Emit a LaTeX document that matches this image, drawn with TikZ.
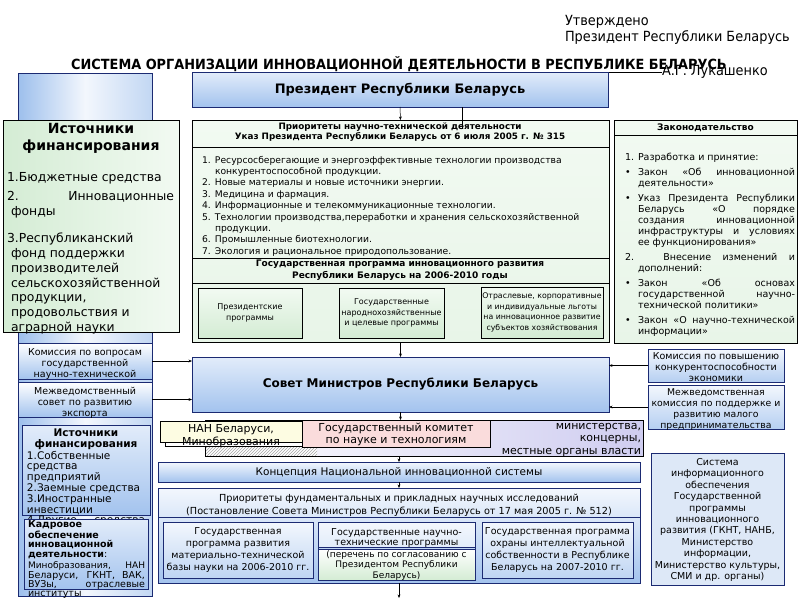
\documentclass[tikz,border=0pt]{standalone}
\usepackage{fontspec}
\setmainfont{DejaVu Sans}
\newfontfamily\cond[FakeStretch=0.92]{DejaVu Sans}
\usetikzlibrary{arrows.meta,patterns}
\definecolor{navy}{HTML}{1B2A72}
\definecolor{blA}{HTML}{E2ECFA}
\definecolor{blB}{HTML}{A3C3EE}
\definecolor{blC}{HTML}{F3F7FD}
\definecolor{gA}{HTML}{E8F5E8}
\definecolor{gB}{HTML}{D4ECD4}
\definecolor{gC}{HTML}{F2FAF2}
\definecolor{pinkb}{HTML}{FADCDC}
\definecolor{yel}{HTML}{FDFCE2}
\definecolor{lav}{HTML}{CFCDF0}
\definecolor{colA}{HTML}{9DBFEC}
\definecolor{colB}{HTML}{C2D7F3}
\definecolor{sysb}{HTML}{DDE8F7}
\newcommand\myfs[2]{\fontsize{#1}{#2}\selectfont}
\begin{document}
\begin{tikzpicture}[x=1pt,y=-1pt,
  bx/.style={draw=navy, line width=0.7pt, anchor=north west, inner sep=0pt, outer sep=0pt},
  gbx/.style={draw=black, line width=0.6pt, anchor=north west, inner sep=0pt, outer sep=0pt},
  bluesh/.style={top color=blA, bottom color=blB},
  subsh/.style={top color=blC, bottom color=blB!70},
  greensh/.style={top color=gC, bottom color=gA},
  gsub/.style={top color=gC, bottom color=gB},
  txt/.style={inner sep=0pt, outer sep=0pt, align=center},
  arr/.style={-{Stealth[length=3.5pt,width=2.8pt]}, line width=0.5pt},
  ln/.style={line width=0.5pt},
]
\fill[white] (0,0) rectangle (800,600);
\path[use as bounding box] (0,0) rectangle (800,600);

% header texts
\node[txt, anchor=north west, align=left, font=\cond\myfs{14}{16}] (appr) at (565,15) {Утверждено\\Президент Республики Беларусь};
\node[txt, font=\cond\bfseries\myfs{14}{16}] (title) at (399,64) {СИСТЕМА ОРГАНИЗАЦИИ ИННОВАЦИОННОЙ ДЕЯТЕЛЬНОСТИ В РЕСПУБЛИКЕ БЕЛАРУСЬ};
\node[txt, anchor=base west, font=\cond\myfs{14}{16}] (sign) at (662,75) {А.Г. Лукашенко};
\coordinate (sgl) at (565,72);
\draw[ln] (sgl) -- (sgl -| sign.west);

% left blue column
\node[bx, minimum width=134pt, minimum height=523pt, left color=colA, right color=colB, middle color=blC] (col) at (18,73) {};

% President
\node[bx, minimum width=416pt, minimum height=35pt, bluesh] (pres) at (192,72) {};
\node[txt, font=\bfseries\myfs{13}{15}] (prest) at (pres.center) {Президент Республики Беларусь};

% left green sources
\node[gbx, minimum width=176pt, minimum height=212pt, left color=gB, right color=gC] (src1) at (3,120) {};
\node[txt, anchor=north, font=\bfseries\myfs{14}{17}] (src1t) at (91,123) {Источники\\финансирования};
\node[txt, anchor=north west, align=left, font=\myfs{12.4}{14.8}] (src1a) at (7,172) {1.Бюджетные средства};
\node[txt, anchor=north west, align=left, font=\myfs{12.4}{14.8}] (src1b) at (7,191) {\makebox[167pt][s]{2. Инновационные}\\\hspace*{4pt}фонды};
\node[txt, anchor=north west, align=left, font=\myfs{12.4}{14.8}] (src1c) at (7,233) {3.Республиканский\\\hspace*{4pt}фонд поддержки\\\hspace*{4pt}производителей\\\hspace*{4pt}сельскохозяйственной\\\hspace*{4pt}продукции,\\\hspace*{4pt}продовольствия и\\\hspace*{4pt}аграрной науки};

% central green block
\node[gbx, minimum width=417pt, minimum height=222pt, greensh] (prio) at (192,120) {};
\draw[ln] (192,147) -- (609,147);
\draw[ln] (192,258) -- (609,258);
\draw[ln] (192,283) -- (609,283);
\node[txt, font=\bfseries\myfs{8.8}{10}] (prio1) at (400,132.5) {Приоритеты научно-технической деятельности\\Указ Президента Республики Беларусь от 6 июля 2005 г. № 315};
\node[txt, anchor=north west, align=left, font=\myfs{9.2}{11.4}] (prio2) at (202,156) {\makebox[13pt][l]{1.}Ресурсосберегающие и энергоэффективные технологии производства\\
\hspace*{13pt}конкурентоспособной продукции.\\
\makebox[13pt][l]{2.}Новые материалы и новые источники энергии.\\
\makebox[13pt][l]{3.}Медицина и фармация.\\
\makebox[13pt][l]{4.}Информационные и телекоммуникационные технологии.\\
\makebox[13pt][l]{5.}Технологии производства,переработки и хранения сельскохозяйственной\\
\hspace*{13pt}продукции.\\
\makebox[13pt][l]{6.}Промышленные биотехнологии.\\
\makebox[13pt][l]{7.}Экология и рациональное природопользование.};
\node[txt, font=\bfseries\myfs{9}{12.5}] (prio3) at (400,270) {Государственная программа инновационного развития\\Республики Беларусь на 2006-2010 годы};
\node[gbx, minimum width=104pt, minimum height=50pt, gsub] (pp1) at (198,288) {};
\node[txt, font=\myfs{8}{10.7}] (pp1t) at (pp1.center) {Президентские\\программы};
\node[gbx, minimum width=105pt, minimum height=50pt, gsub] (pp2) at (339,288) {};
\node[txt, font=\myfs{8}{10.7}] (pp2t) at (pp2.center) {Государственные\\народнохозяйственные\\и целевые программы};
\node[gbx, minimum width=122pt, minimum height=51pt, gsub] (pp3) at (481,287) {};
\node[txt, font=\myfs{7.8}{10.7}] (pp3t) at (pp3.center) {Отраслевые, корпоративные\\и индивидуальные льготы\\на инновационное развитие\\субъектов хозяйствования};

% legislation
\node[gbx, minimum width=183pt, minimum height=223pt, greensh] (law) at (614,120) {};
\draw[ln] (614,135) -- (797,135);
\node[txt, font=\bfseries\myfs{9}{10}] (lawh) at (705.5,127.5) {Законодательство};
\node[txt, anchor=north west, align=left, font=\myfs{9.5}{11}] (lawb) at (625,153) {\makebox[13pt][l]{1.}Разработка и принятие:\\[4pt]
\makebox[13pt][l]{•}\makebox[157pt][s]{Закон «Об инновационной}\\
\hspace*{13pt}деятельности»\\[4pt]
\makebox[13pt][l]{•}\makebox[157pt][s]{Указ Президента Республики}\\
\hspace*{13pt}\makebox[157pt][s]{Беларусь «О порядке}\\
\hspace*{13pt}\makebox[157pt][s]{создания инновационной}\\
\hspace*{13pt}\makebox[157pt][s]{инфраструктуры и условиях}\\
\hspace*{13pt}ее функционирования»\\[4pt]
\makebox[170pt][s]{2. Внесение изменений и}\\
\hspace*{13pt}дополнений:\\[4pt]
\makebox[13pt][l]{•}\makebox[157pt][s]{Закон «Об основах}\\
\hspace*{13pt}\makebox[157pt][s]{государственной научно-}\\
\hspace*{13pt}технической политики»\\[4pt]
\makebox[13pt][l]{•}\makebox[157pt][s]{Закон «О научно-технической}\\
\hspace*{13pt}информации»};

% council
\node[bx, minimum width=417pt, minimum height=55pt, bluesh] (sovet) at (192,357) {};
\node[txt, font=\bfseries\myfs{12}{14}] (sovett) at (sovet.center) {Совет Министров Республики Беларусь};

% left commissions
\node[bx, minimum width=134pt, minimum height=36pt, top color=white, bottom color=blB] (kom1) at (18,343) {};
\node[txt, font=\myfs{9.5}{11.3}] (kom1t) at (85,364) {Комиссия по вопросам\\государственной\\научно-технической};
\node[bx, minimum width=134pt, minimum height=35pt, top color=white, bottom color=blB] (kom2) at (18,382) {};
\node[txt, font=\myfs{9.5}{11}] (kom2t) at (85,403) {Межведомственный\\совет по развитию\\экспорта};

% right commissions
\node[bx, minimum width=136pt, minimum height=33pt, top color=blC, bottom color=blB!80] (kr1) at (648,349) {};
\node[txt, font=\myfs{9.5}{11.3}] (kr1t) at (716,367) {Комиссия по повышению\\конкурентоспособности\\экономики};
\node[bx, minimum width=136pt, minimum height=44pt, top color=blC, bottom color=blB!80] (kr2) at (648,385) {};
\node[txt, font=\myfs{9.3}{11}] (kr2t) at (716,410) {Межведомственная\\комиссия по поддержке и\\развитию малого\\предпринимательства};

% arrows to the council
\draw[arr] (pres.south) -- (prio.north);
\coordinate (tick) at (462,129);
\draw[ln] (pres.south -| tick) -- (tick);
\draw[arr] (prio.south) -- (sovet.north);
\draw[arr] (kom1.east) -- (kom1.east -| sovet.west);
\draw[arr] (kom2.east) -- (kom2.east -| sovet.west);
\draw[arr] (kr1.west) -- (kr1.west -| sovet.east);
\draw[arr] (kr2.west) -- (kr2.west -| sovet.east);

% organisations row
\node[gbx, line width=0.5pt, minimum width=438pt, minimum height=36pt, left color=white, right color=lav] (lavn) at (205,420) {};
\node[txt, anchor=north east, align=right, font=\myfs{11}{12.5}] (lavt) at (641,423) {министерства,\\концерны,\\местные органы власти};
\fill[white] (205,443) rectangle (317,456);
\fill[pattern=north east lines, pattern color=gray!70] (205,443) rectangle (317,456);
\draw[ln] (205,443) -- (205,456) -- (317,456);
\node[gbx, line width=0.5pt, minimum width=145pt, minimum height=19pt, fill=white] (nansh) at (165,427) {};
\node[gbx, line width=0.5pt, minimum width=142pt, minimum height=21pt, fill=yel] (nan) at (160,421) {};
\node[txt, font=\myfs{11}{13}] (nant) at (231,436.5) {НАН Беларуси,\\Минобразования};
\node[gbx, line width=0.5pt, minimum width=188pt, minimum height=27pt, fill=pinkb] (gknt) at (302,420) {};
\node[txt, font=\myfs{11}{12.5}] (gkntt) at (396,434.5) {Государственный комитет\\по науке и технологиям};
\draw[arr] (sovet.south) -- (sovet.south |- gknt.north);

% concept
\node[bx, minimum width=482pt, minimum height=20pt, top color=blC, bottom color=blB] (konc) at (158,462) {};
\node[txt, font=\myfs{10.5}{12}] (konct) at (konc.center) {Концепция Национальной инновационной системы};
\draw[arr] (konc.north |- lavn.south) -- (konc.north);

% fundamental priorities
\node[bx, minimum width=482pt, minimum height=95pt, top color=blC, bottom color=blB] (fund) at (158,488) {};
\draw[arr] (konc.south) -- (fund.north);
\node[txt, font=\myfs{9.7}{13}] (fundt) at (399,505.5) {Приоритеты фундаментальных и прикладных научных исследований\\(Постановление Совета Министров Республики Беларусь от 17 мая 2005 г. № 512)};
\draw[navy, line width=0.6pt] (158,517) -- (640,517);
\node[bx, minimum width=150pt, minimum height=56pt, subsh] (fa) at (163,522) {};
\node[txt, font=\myfs{9.5}{11.7}] (fat) at (fa.center) {Государственная\\программа развития\\материально-технической\\базы науки на 2006-2010 гг.};
\fill[top color=blC, bottom color=blA] (318,522) rectangle (475,547);
\fill[top color=white, bottom color=gB] (318,549) rectangle (475,580);
\node[bx, minimum width=157pt, minimum height=58pt] (fb) at (318,522) {};
\draw[navy, line width=0.5pt] (318,547) -- (475,547);
\draw[navy, line width=0.5pt] (318,549) -- (475,549);
\node[txt, font=\myfs{9.5}{10.5}] (fbt1) at (396.5,538) {Государственные научно-\\технические программы};
\node[txt, font=\myfs{9}{10.8}] (fbt2) at (396.5,565.5) {(перечень по согласованию с\\Президентом Республики\\Беларусь)};
\node[bx, minimum width=151pt, minimum height=56pt, subsh] (fc) at (482,522) {};
\node[txt, font=\myfs{9.5}{11.7}] (fct) at (fc.center) {Государственная программа\\охраны интеллектуальной\\собственности в Республике\\Беларусь на 2007-2010 гг.};
\coordinate (fend) at (399,598);
\draw[arr] (fund.south) -- (fend);

% bottom-left boxes
\node[bx, minimum width=128pt, minimum height=90pt, top color=blA, bottom color=blB] (src2) at (22,425) {};
\node[txt, font=\bfseries\myfs{10.5}{11}] (src2t) at (86,439.5) {Источники\\финансирования};
\node[txt, anchor=north west, align=left, font=\myfs{10.5}{10.8}] (src2b) at (27,451) {1.Собственные\\средства\\предприятий\\2.Заемные средства\\3.Иностранные\\инвестиции\\\makebox[118pt][s]{4.Другие средства}};
\node[bx, minimum width=124pt, minimum height=70pt, top color=blA, bottom color=blB] (kadr) at (24,519) {};
\node[txt, anchor=north west, align=left, font=\myfs{9.5}{9.4}] (kadrt) at (28,521) {\textbf{Кадровое}\\\textbf{обеспечение}\\\textbf{инновационной}\\\textbf{деятельности}:\\[2pt]
\myfs{9}{9.6}\makebox[117pt][s]{Минобразования, НАН}\\\makebox[117pt][s]{Беларуси, ГКНТ, ВАК,}\\\makebox[117pt][s]{ВУЗы, отраслевые}\\институты};

% information system
\node[bx, minimum width=133pt, minimum height=132pt, fill=sysb] (sys) at (651,453) {};
\node[txt, font=\myfs{9.5}{11.4}] (syst) at (717.5,520) {Система\\информационного\\обеспечения\\Государственной\\программы\\инновационного\\развития (ГКНТ, НАНБ,\\Министерство\\информации,\\Министерство культуры,\\СМИ и др. органы)};
\end{tikzpicture}
\end{document}
